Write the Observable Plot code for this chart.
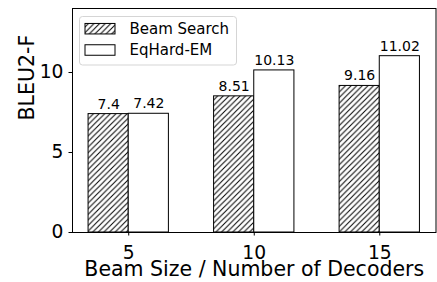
<!DOCTYPE html>
<html><head><meta charset="utf-8">
<script src="https://cdn.jsdelivr.net/npm/d3@7"></script>
<script src="https://cdn.jsdelivr.net/npm/@observablehq/plot@0.6"></script>
<style>body{margin:0;background:#fff}</style>
</head><body><div id="chart"></div>
<script>
const sizes = [5, 10, 15];
const beamSearch = [7.4, 8.51, 9.16];
const eqHardEM = [7.42, 10.13, 11.02];
const seriesNames = ["Beam Search", "EqHard-EM"];
const yTicks = [0, 5, 10];
const xLabel = "Beam Size / Number of Decoders";
const yLabel = "BLEU2-F";

const rows = [];
sizes.forEach((s, i) => {
  rows.push({size: s, series: seriesNames[0], value: beamSearch[i], k: -1});
  rows.push({size: s, series: seriesNames[1], value: eqHardEM[i], k: 0});
});
const BW = 1.6;
const x1 = d => d.size + d.k * BW;
const x2 = d => d.size + (d.k + 1) * BW;
const xc = d => d.size + (d.k + 0.5) * BW;

const plot = Plot.plot({
  width: 437, height: 282,
  marginLeft: 72, marginRight: 1.5, marginTop: 8, marginBottom: 50,
  x: {domain: [2.76, 17.24], axis: null},
  y: {domain: [0, 14], axis: null},
  style: {fontFamily: "'DejaVu Sans', sans-serif", background: "#fff", color: "#000"},
  marks: [
    Plot.rect(rows.filter(d => d.series === seriesNames[0]), {x1, x2, y1: 0, y2: "value", fill: "url(#hatch)", stroke: "#000", strokeWidth: 1}),
    Plot.rect(rows.filter(d => d.series === seriesNames[1]), {x1, x2, y1: 0, y2: "value", fill: "#fff", stroke: "#000", strokeWidth: 1}),
    Plot.text(rows, {x: xc, y: "value", text: d => String(d.value), dy: -10, fontSize: 14, fill: "#000"}),
    Plot.axisY({ticks: yTicks, tickSize: 3.5, tickPadding: 5.5, fontSize: 18.7, label: null, tickFormat: d => String(d)}),
    Plot.axisX({ticks: sizes, tickSize: 3.5, tickPadding: 9.5, fontSize: 18.7, label: null, tickFormat: d => String(d)}),
    Plot.frame({stroke: "#000", strokeWidth: 1}),
    Plot.text([xLabel], {frameAnchor: "bottom", dy: 43.5, fontSize: 20.5, fill: "#000"}),
    Plot.text([yLabel], {frameAnchor: "left", rotate: -90, dx: -45.5, fontSize: 20.5, fill: "#000"})
  ]
});

const svg = d3.select(plot);
const defs = svg.insert("defs", ":first-child");
const pat = defs.append("pattern").attr("id", "hatch").attr("patternUnits", "userSpaceOnUse")
  .attr("width", 5.6).attr("height", 5.6);
pat.append("rect").attr("width", 5.6).attr("height", 5.6).attr("fill", "#fff");
pat.append("path").attr("d", "M-1.4,1.4 L1.4,-1.4 M0,5.6 L5.6,0 M4.2,7 L7,4.2")
  .attr("stroke", "#000").attr("stroke-width", 1).attr("fill", "none");

// legend
const lg = svg.append("g").attr("font-family", "'DejaVu Sans', sans-serif").attr("font-size", 15).attr("text-anchor", "start");
lg.append("rect").attr("x", 79.5).attr("y", 16.5).attr("width", 157).attr("height", 48.5)
  .attr("rx", 3).attr("fill", "#fff").attr("fill-opacity", 0.8).attr("stroke", "#d5d5d5").attr("stroke-width", 1);
seriesNames.forEach((name, i) => {
  const cy = 28.7 + i * 21.3;
  lg.append("rect").attr("x", 85).attr("y", cy - 5.25).attr("width", 30).attr("height", 10.5)
    .attr("fill", i === 0 ? "url(#hatch)" : "#fff").attr("stroke", "#000").attr("stroke-width", 1);
  lg.append("text").attr("x", 129.5).attr("y", cy + 5.4).attr("fill", "#000").attr("text-anchor", "start").text(name);
});

document.getElementById("chart").appendChild(plot);
</script>
</body></html>
